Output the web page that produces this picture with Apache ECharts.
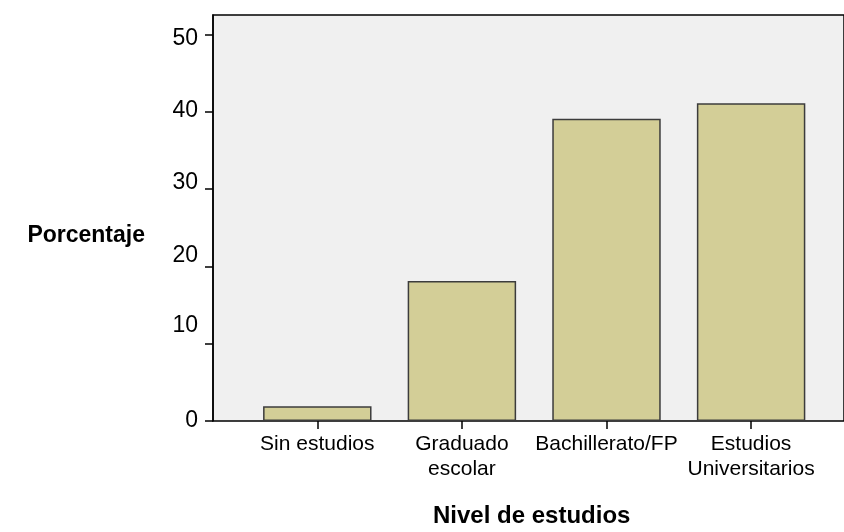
<!DOCTYPE html>
<html>
<head>
<meta charset="utf-8">
<script src="https://cdn.jsdelivr.net/npm/echarts@6/dist/echarts.min.js"></script>
<style>
  html, body { margin: 0; padding: 0; background: #fff; }
  #chart { width: 844px; height: 532px; }
</style>
</head>
<body>
<div id="chart"></div>
<script>
// datos del gráfico
var categorias = ['Sin estudios', 'Graduado\nescolar', 'Bachillerato/FP', 'Estudios\nUniversitarios'];
var porcentajes = [1.9, 18.1, 39.1, 41.1];
var ticksY = [0, 10, 20, 30, 40, 50];

// pequeño desplazamiento vertical de cada etiqueta del eje Y (como en el original)
var desplazY = { 0: 0, 10: -18, 20: -11, 30: -6, 40: -1, 50: 4 };
var richY = {};
ticksY.forEach(function (v) {
  var d = desplazY[v];
  richY['v' + v] = {
    fontSize: 23, fontFamily: 'Liberation Sans, Arial', color: '#000',
    padding: d < 0 ? [0, 0, -2 * d, 0] : [2 * d, 0, 0, 0]
  };
});

var myChart = echarts.init(document.getElementById('chart'));
myChart.setOption({
  animation: false,
  textStyle: { fontFamily: 'Liberation Sans, Arial' },
  grid: [
    { left: 213, top: 15, width: 700, height: 406, show: true,
      backgroundColor: '#f0f0f0', borderColor: '#000', borderWidth: 1.5 },
    { left: 245, top: 15, width: 578.4, height: 406 }
  ],
  xAxis: [
    { gridIndex: 0, type: 'value', min: 0, max: 1, show: false },
    { gridIndex: 1, type: 'category', data: categorias,
      axisLine: { show: false },
      axisTick: { show: true, alignWithLabel: true, length: 8, lineStyle: { color: '#000', width: 1.5 } },
      axisLabel: { margin: 11, fontSize: 21, color: '#000', lineHeight: 25, interval: 0 } }
  ],
  yAxis: [
    { gridIndex: 0, type: 'value', min: 0, max: 52.5, interval: 10,
      splitLine: { show: false },
      axisLine: { show: true, lineStyle: { color: '#000', width: 1.5 } },
      axisTick: { show: true, length: 8, lineStyle: { color: '#000', width: 1.5 } },
      axisLabel: {
        margin: 15, showMaxLabel: false,
        formatter: function (v) { return '{v' + v + '|' + v + '}'; },
        rich: richY
      } },
    { gridIndex: 1, type: 'value', min: 0, max: 52.5, show: false }
  ],
  series: [{
    type: 'bar',
    xAxisIndex: 1,
    yAxisIndex: 1,
    data: porcentajes,
    barWidth: '75%',
    itemStyle: { color: '#d3ce97', borderColor: '#3c3c3c', borderWidth: 1.5 }
  }],
  graphic: [
    { type: 'text', right: 844 - 145, top: 224,
      style: { text: 'Porcentaje', fontSize: 23, fontWeight: 'bold', fill: '#000',
               fontFamily: 'Liberation Sans, Arial' } },
    { type: 'text', left: 433, top: 504,
      style: { text: 'Nivel de estudios', fontSize: 24, fontWeight: 'bold', fill: '#000',
               fontFamily: 'Liberation Sans, Arial' } }
  ]
});
</script>
</body>
</html>
